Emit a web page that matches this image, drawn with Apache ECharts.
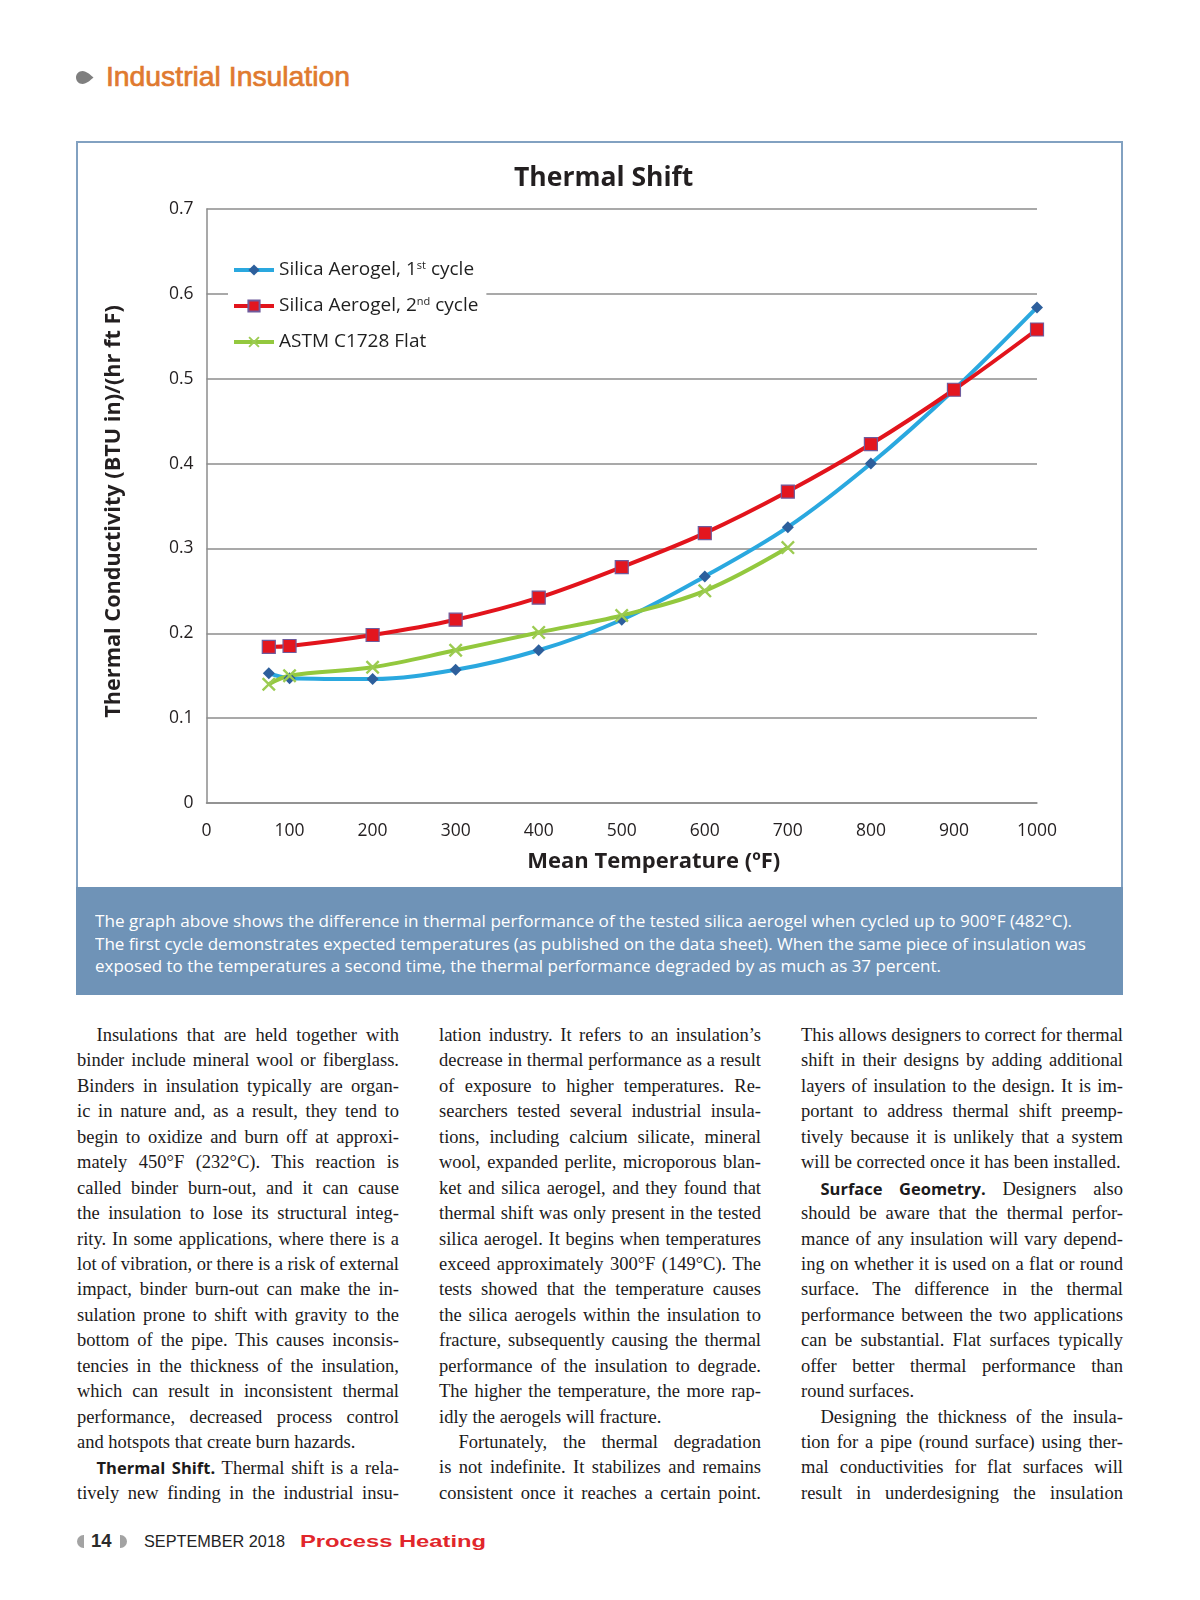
<!DOCTYPE html>
<html><head><meta charset="utf-8">
<script src="https://cdn.jsdelivr.net/npm/echarts@6/dist/echarts.min.js"></script>
<style>
html,body{margin:0;padding:0;background:#fff;}
body{width:1200px;height:1600px;position:relative;overflow:hidden;}
.abs{position:absolute;}
#hdr{left:106px;top:62.5px;font-family:"Liberation Sans",Arial,sans-serif;font-size:28px;line-height:27px;color:#e07a2f;white-space:nowrap;-webkit-text-stroke:0.7px #e07a2f;transform-origin:0 50%;}
#box{left:76px;top:141px;width:1043px;height:746px;border:2px solid #82a1c1;border-bottom:none;}
#chart{left:78px;top:143px;width:1043px;height:744px;}
#band{left:76px;top:887px;width:1047px;height:108px;background:#6f93b7;}
.cap{position:absolute;left:95px;font-family:"Open Sans",sans-serif;font-size:16px;line-height:22px;color:#fff;white-space:nowrap;transform-origin:0 50%;}
.col{position:absolute;top:1023px;width:322px;font-family:"Liberation Serif","Times New Roman",serif;font-size:18.5px;color:#1c1a1b;}
.ln{height:25.45px;line-height:25.45px;white-space:nowrap;}
.ln b{font-family:"Open Sans",sans-serif;font-weight:700;font-size:16.5px;color:#1c1a1b;}
.half{position:absolute;top:1534.5px;width:6.5px;height:13px;background:#a3a3a3;}
.ft{position:absolute;font-family:"Liberation Sans",Arial,sans-serif;white-space:nowrap;line-height:20px;transform-origin:0 50%;}
</style></head>
<body>
<svg class="abs" style="left:76px;top:70.5px" width="18" height="13" viewBox="0 0 18 13"><path d="M6.5,0 C2.9,0 0,2.9 0,6.5 C0,10.1 2.9,13 6.5,13 C10.5,13 14.5,9 17.5,6.5 C14.5,4 10.5,0 6.5,0Z" fill="#7f7f7f"/></svg>
<div id="hdr" class="abs">Industrial Insulation</div>

<div id="box" class="abs"></div>
<div id="chart" class="abs"></div>
<div id="band" class="abs"></div>
<div id="caps"></div>

<div id="c1" class="col" style="left:77px"></div>
<div id="c2" class="col" style="left:439px"></div>
<div id="c3" class="col" style="left:801px"></div>

<div class="half" style="left:77px;border-radius:6.5px 0 0 6.5px / 6.5px 0 0 6.5px"></div>
<div class="ft" id="pg" style="left:91px;top:1531px;font-size:18.5px;font-weight:700;color:#2b2b2b">14</div>
<div class="half" style="left:120px;border-radius:0 6.5px 6.5px 0 / 0 6.5px 6.5px 0"></div>
<div class="ft" id="dt" style="left:144px;top:1531px;font-size:16.5px;color:#1f1f1f">SEPTEMBER 2018</div>
<div class="ft" id="ph" style="left:300px;top:1531px;font-size:16.5px;font-weight:700;color:#e1262b">Process Heating</div>

<script>
// ---- chart data ----
const temps = [75, 100, 200, 300, 400, 500, 600, 700, 800, 900, 1000];
const cycle1 = [0.153, 0.147, 0.146, 0.157, 0.180, 0.216, 0.267, 0.325, 0.400, 0.487, 0.584];
const cycle2 = [0.184, 0.185, 0.198, 0.216, 0.242, 0.278, 0.318, 0.367, 0.423, 0.487, 0.558];
const astmTemps = [75, 100, 200, 300, 400, 500, 600, 700];
const astm = [0.140, 0.150, 0.160, 0.180, 0.201, 0.221, 0.250, 0.301];
const seriesNames = ['Silica Aerogel, 1st cycle', 'Silica Aerogel, 2nd cycle', 'ASTM C1728 Flat'];
const chartTitle = 'Thermal Shift';
const xName = 'Mean Temperature (ºF)';
const yName = 'Thermal Conductivity (BTU in)/(hr ft F)';

// ---- page text ----
const captionLines = [
  'The graph above shows the difference in thermal performance of the tested silica aerogel when cycled up to 900°F (482°C).',
  'The first cycle demonstrates expected temperatures (as published on the data sheet). When the same piece of insulation was',
  'exposed to the temperatures a second time, the thermal performance degraded by as much as 37 percent.'
];
const captionWidths = [977, 991, 846];
const col1Lines = [
  '^Insulations that are held together with',
  'binder include mineral wool or fiberglass.',
  'Binders in insulation typically are organ-',
  'ic in nature and, as a result, they tend to',
  'begin to oxidize and burn off at approxi-',
  'mately 450°F (232°C). This reaction is',
  'called binder burn-out, and it can cause',
  'the insulation to lose its structural integ-',
  'rity. In some applications, where there is a',
  'lot of vibration, or there is a risk of external',
  'impact, binder burn-out can make the in-',
  'sulation prone to shift with gravity to the',
  'bottom of the pipe. This causes inconsis-',
  'tencies in the thickness of the insulation,',
  'which can result in inconsistent thermal',
  'performance, decreased process control',
  'and hotspots that create burn hazards.$',
  '^**Thermal Shift.** Thermal shift is a rela-',
  'tively new finding in the industrial insu-'
];
const col2Lines = [
  'lation industry. It refers to an insulation’s',
  'decrease in thermal performance as a result',
  'of exposure to higher temperatures. Re-',
  'searchers tested several industrial insula-',
  'tions, including calcium silicate, mineral',
  'wool, expanded perlite, microporous blan-',
  'ket and silica aerogel, and they found that',
  'thermal shift was only present in the tested',
  'silica aerogel. It begins when temperatures',
  'exceed approximately 300°F (149°C). The',
  'tests showed that the temperature causes',
  'the silica aerogels within the insulation to',
  'fracture, subsequently causing the thermal',
  'performance of the insulation to degrade.',
  'The higher the temperature, the more rap-',
  'idly the aerogels will fracture.$',
  '^Fortunately, the thermal degradation',
  'is not indefinite. It stabilizes and remains',
  'consistent once it reaches a certain point.'
];
const col3Lines = [
  'This allows designers to correct for thermal',
  'shift in their designs by adding additional',
  'layers of insulation to the design. It is im-',
  'portant to address thermal shift preemp-',
  'tively because it is unlikely that a system',
  'will be corrected once it has been installed.$',
  '^**Surface Geometry.** Designers also',
  'should be aware that the thermal perfor-',
  'mance of any insulation will vary depend-',
  'ing on whether it is used on a flat or round',
  'surface. The difference in the thermal',
  'performance between the two applications',
  'can be substantial. Flat surfaces typically',
  'offer better thermal performance than',
  'round surfaces.$',
  '^Designing the thickness of the insula-',
  'tion for a pipe (round surface) using ther-',
  'mal conductivities for flat surfaces will',
  'result in underdesigning the insulation'
];

function fitX(el, target){
  const w = el.getBoundingClientRect().width;
  if (w > 0) el.style.transform = 'scaleX(' + (target / w) + ')';
}
function layoutCol(el, lines){
  lines.forEach(function(s){
    const indent = s.charAt(0) === '^'; if (indent) s = s.slice(1);
    const last = s.charAt(s.length - 1) === '$'; if (last) s = s.slice(0, -1);
    const d = document.createElement('div'); d.className = 'ln';
    if (indent) d.style.paddingLeft = '19.5px';
    const sp = document.createElement('span');
    sp.innerHTML = s.replace(/\*\*(.+?)\*\*/g, '<b>$1</b>');
    d.appendChild(sp); el.appendChild(d);
    if (!last) {
      const target = 322 - (indent ? 19.5 : 0);
      const w = sp.getBoundingClientRect().width;
      const n = (sp.textContent.match(/ /g) || []).length;
      if (n > 0) d.style.wordSpacing = ((target - w) / n) + 'px';
    }
  });
}
layoutCol(document.getElementById('c1'), col1Lines);
layoutCol(document.getElementById('c2'), col2Lines);
layoutCol(document.getElementById('c3'), col3Lines);

const caps = document.getElementById('caps');
captionLines.forEach(function(t, i){
  const d = document.createElement('div'); d.className = 'cap';
  d.style.top = (910 + i * 22.5) + 'px'; d.textContent = t;
  caps.appendChild(d);
  fitX(d, captionWidths[i]);
});
fitX(document.getElementById('ph'), 186);
fitX(document.getElementById('dt'), 141);
fitX(document.getElementById('hdr'), 244);

// ---- chart ----
const FONT = '"Open Sans", "Noto Sans", sans-serif';
const chart = echarts.init(document.getElementById('chart'), null, {renderer: 'canvas'});
const pairs = (xs, ys) => xs.map((x, i) => [x, ys[i]]);
const xMark = 'path://M0,1.2L1.2,0L5,3.8L8.8,0L10,1.2L6.2,5L10,8.8L8.8,10L5,6.2L1.2,10L0,8.8L3.8,5Z';

chart.setOption({
  animation: false,
  backgroundColor: '#fff',
  title: {
    text: chartTitle, left: 431, top: 17,
    textStyle: {fontFamily: FONT, fontSize: 26.5, fontWeight: 'bold', color: '#231f20'}
  },
  legend: {
    orient: 'vertical', left: 150, top: 112, padding: [5, 8, 5, 4],
    backgroundColor: '#fff', itemWidth: 40, itemHeight: 14, itemGap: 16,
    data: seriesNames,
    lineStyle: {width: 4, inactiveWidth: 4},
    formatter: function(n){ return n.replace(/(\d)(st|nd)\b/, '$1{sup|$2}'); },
    textStyle: {
      fontFamily: FONT, fontSize: 19, color: '#1f1f1f', lineHeight: 20,
      rich: {sup: {fontFamily: FONT, fontSize: 11, color: '#1f1f1f', lineHeight: 11, verticalAlign: 'top'}}
    }
  },
  grid: {left: 128.5, top: 66, width: 830.5, height: 594, containLabel: false},
  xAxis: {
    type: 'value', min: 0, max: 1000, interval: 100,
    name: xName, nameLocation: 'middle', nameGap: 48,
    nameTextStyle: {fontFamily: FONT, fontSize: 22, fontWeight: 'bold', color: '#231f20', padding: [0, 0, 0, 64]},
    axisLine: {show: true, lineStyle: {color: '#8c8c8c', width: 1.5}},
    axisTick: {show: false},
    splitLine: {show: false},
    axisLabel: {fontFamily: FONT, fontSize: 17.5, color: '#231f20', margin: 19, showMinLabel: true, showMaxLabel: true,
      formatter: function(v){ return String(v); }}
  },
  yAxis: {
    type: 'value', min: 0, max: 0.7, interval: 0.1,
    name: yName, nameLocation: 'middle', nameGap: 82, nameRotate: 90,
    nameTextStyle: {fontFamily: FONT, fontSize: 21.7, fontWeight: 'bold', color: '#231f20', padding: [0, 11, 0, 0]},
    axisLine: {show: true, lineStyle: {color: '#8c8c8c', width: 1.5}},
    axisTick: {show: false},
    splitLine: {show: true, lineStyle: {color: '#8c8c8c', width: 1.5}},
    axisLabel: {fontFamily: FONT, fontSize: 17.5, color: '#231f20', margin: 13,
      formatter: function(v){ return v === 0 ? '0' : v.toFixed(1); }}
  },
  series: [
    {
      name: seriesNames[0], type: 'line', smooth: 0.35, data: pairs(temps, cycle1),
      lineStyle: {color: '#2aa8df', width: 4},
      symbol: 'diamond', symbolSize: [12, 12],
      itemStyle: {color: '#2d5f9c', borderColor: '#2d5f9c', borderWidth: 0}
    },
    {
      name: seriesNames[1], type: 'line', smooth: 0.35, data: pairs(temps, cycle2),
      lineStyle: {color: '#e2141c', width: 4},
      symbol: 'rect', symbolSize: 13,
      itemStyle: {color: '#e3161f', borderColor: '#6f5b9c', borderWidth: 1.2}
    },
    {
      name: seriesNames[2], type: 'line', smooth: 0.35, data: pairs(astmTemps, astm),
      lineStyle: {color: '#93c83e', width: 4},
      symbol: xMark, symbolSize: 14,
      itemStyle: {color: '#9ccb52'}
    }
  ]
});
</script>
</body></html>
